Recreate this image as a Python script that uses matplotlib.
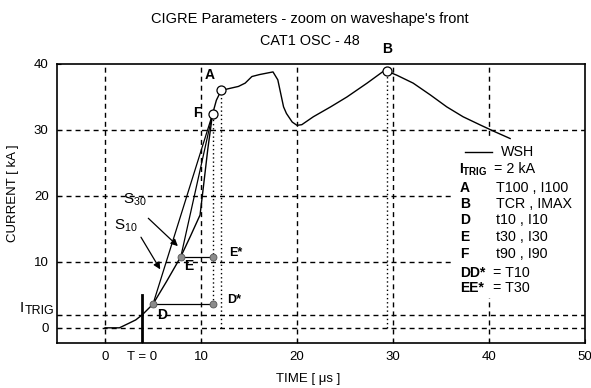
import matplotlib
matplotlib.use('Agg')
import matplotlib.pyplot as plt
from matplotlib.patches import Rectangle

plt.rcParams['font.family'] = ['Liberation Sans', 'DejaVu Sans']
plt.rcParams['mathtext.fontset'] = 'custom'
plt.rcParams['mathtext.rm'] = 'Liberation Sans'
plt.rcParams['mathtext.bf'] = 'Liberation Sans:bold'

# recorded waveshape: time [us], current [kA]
time_us = [0, 1.5, 2.5, 3.2, 3.9, 5.0, 6.4, 7.9, 8.9, 9.9, 10.3, 10.7, 11.2,
           11.6, 12.1, 12.7, 13.9, 14.6, 15.3, 16.1, 17.5, 18.0, 18.6, 18.9,
           19.5, 20.0, 20.5, 21.7, 23.5, 25.2, 27.3, 29.0, 29.4, 30.4, 32.1,
           33.9, 35.6, 37.3, 39.1, 40.5, 42.2]
current_ka = [0, 0, 0.7, 1.2, 2.0, 3.6, 7.0, 10.8, 13.9, 17.1, 22.0, 27.0, 32.4,
              34.5, 36.0, 36.2, 36.6, 37.1, 38.1, 38.4, 38.8, 37.6, 33.5, 32.5,
              31.2, 30.7, 30.8, 32.0, 33.5, 35.0, 37.1, 38.9, 38.9, 38.3, 37.1,
              35.3, 33.5, 32.0, 30.75, 29.8, 28.7]

# CIGRE parameters
i_trig = 2.0
t_zero = 3.9
t_A, i_A = 12.1, 36.0      # T100, I100
t_B, i_B = 29.4, 38.9      # TCR, IMAX
t_D, i_D = 5.0, 3.6        # t10, I10
t_E, i_E = 7.9, 10.8       # t30, I30
t_F, i_F = 11.2, 32.4      # t90, I90
t_star = 11.2              # end of DD* and EE*

x_ticks = [0, t_zero, 10, 20, 30, 40, 50]
x_labels = ['0', 'T = 0', '10', '20', '30', '40', '50']
y_ticks = [0, i_trig, 10, 20, 30, 40]
y_labels = ['0', '', '10', '20', '30', '40']

legend_keys = ['A', 'B', 'D', 'E', 'F', 'DD*', 'EE*']
legend_vals = ['T100 , I100', 'TCR , IMAX', 't10 , I10', 't30 , I30',
               't90 , I90', '= T10', '= T30']
legend_y = [0.556, 0.498, 0.441, 0.380, 0.319, 0.251, 0.197]

fig = plt.figure(figsize=(5.91, 3.88), dpi=100)
ax = fig.add_axes([57 / 591, 45 / 388, 528 / 591, 279 / 388])
ax.set_xlim(-5, 50)
ax.set_ylim(-2.3, 40)

dash = (0, (3.6, 2.9))
for x in [0, 10, 20, 30, 40]:
    ax.axvline(x, color='black', lw=1, ls=dash, zorder=1)
for y in [0, i_trig, 10, 20, 30]:
    ax.axhline(y, color='black', lw=1, ls=dash, zorder=1)

# dotted markers of the characteristic times
dot = (0, (1, 2))
ax.plot([t_A, t_A], [0, i_A], color='black', lw=1, ls=dot, zorder=2)
ax.plot([t_F, t_F], [i_D, i_F], color='black', lw=1, ls=dot, zorder=2)
ax.plot([t_B, t_B], [0, i_B], color='black', lw=1, ls=dot, zorder=2)

ax.plot(time_us, current_ka, color='black', lw=1, zorder=3)

# slopes S10 and S30
ax.plot([t_D, t_F], [i_D, i_F], color='black', lw=0.9, zorder=3)
ax.plot([t_E, t_F], [i_E, i_F], color='black', lw=0.9, zorder=3)

# T10 / T30 segments
ax.plot([t_D, t_star], [i_D, i_D], color='black', lw=0.9, zorder=3)
ax.plot([t_E, t_star], [i_E, i_E], color='black', lw=0.9, zorder=3)
ax.plot([t_D, t_star, t_E, t_star], [i_D, i_D, i_E, i_E], ls='none', marker='o',
        ms=5, mfc='#8c8c8c', mec='#555555', mew=0.6, zorder=4)

ax.plot([t_A, t_B, t_F], [i_A, i_B, i_F], ls='none', marker='o', ms=6.5,
        mfc='white', mec='black', mew=0.9, zorder=4)

ax.plot([t_zero, t_zero], [-2.3, 5.0], color='black', lw=2, zorder=4)

bold = dict(fontsize=10, fontweight='bold', zorder=5)
ax.text(10.9, 38.3, 'A', ha='center', va='center', **bold)
ax.text(9.6, 32.6, 'F', ha='center', va='center', **bold)
ax.text(t_B, 42.2, 'B', ha='center', va='center', clip_on=False, **bold)
ax.text(5.9, 2.0, 'D', ha='center', va='center', **bold)
ax.text(8.75, 9.3, 'E', ha='center', va='center', **bold)
ax.text(12.7, 4.2, 'D*', ha='left', va='center', fontsize=9, fontweight='bold')
ax.text(12.95, 11.4, 'E*', ha='left', va='center', fontsize=9, fontweight='bold')

ax.text(1.9, 19.4, r'$\mathregular{S_{30}}$', ha='left', va='center', fontsize=11)
ax.text(0.9, 15.4, r'$\mathregular{S_{10}}$', ha='left', va='center', fontsize=11)
arrow = dict(arrowstyle='-|>', color='black', lw=0.9, mutation_scale=10)
ax.annotate('', xy=(7.8, 12.1), xytext=(4.3, 16.9), arrowprops=arrow)
ax.annotate('', xy=(5.9, 8.5), xytext=(3.6, 14.1), arrowprops=arrow)

# legend block
ax.add_patch(Rectangle((0.75, 0.163), 0.25, 0.58, transform=ax.transAxes,
                       facecolor='white', edgecolor='none', zorder=2))
ax.plot([0.773, 0.824], [0.685, 0.685], color='black', lw=1,
        transform=ax.transAxes, zorder=5)
ax.text(0.84, 0.685, 'WSH', transform=ax.transAxes, fontsize=10.3,
        va='center', zorder=5)
ax.text(0.761, 0.62, r'$\mathbf{I_{TRIG}}$', transform=ax.transAxes,
        fontsize=10, va='center', zorder=5)
ax.text(0.828, 0.625, '= 2 kA', transform=ax.transAxes, fontsize=10.3,
        va='center', zorder=5)
for key, val, y in zip(legend_keys, legend_vals, legend_y):
    ax.text(0.763, y, key, transform=ax.transAxes, fontsize=10,
            fontweight='bold', va='center', zorder=5)
    vx = 0.826 if val.startswith('=') else 0.832
    ax.text(vx, y, val, transform=ax.transAxes, fontsize=10.3,
            va='center', zorder=5)

ax.set_xticks(x_ticks)
ax.set_xticklabels(x_labels)
ax.set_yticks(y_ticks)
ax.set_yticklabels(y_labels)
ax.tick_params(direction='in', length=3, labelsize=9.5, pad=6, width=0.8)
for s in ax.spines.values():
    s.set_linewidth(1.2)

# I_TRIG tick label, written out by hand for the wide subscript
fig.text(22 / 591, 1 - 307.5 / 388, 'I', ha='center', va='center', fontsize=11)
fig.text(25 / 591, 1 - 311.5 / 388, 'TRIG', ha='left', va='center',
         fontsize=9)

fig.text(310 / 591, 1 - 19 / 388, "CIGRE Parameters - zoom on waveshape's front",
         ha='center', va='center', fontsize=10.5)
fig.text(310 / 591, 1 - 41 / 388, 'CAT1 OSC - 48', ha='center', va='center',
         fontsize=10.4)
fig.text(308 / 591, 1 - 379 / 388, 'TIME [ μs ]', ha='center', va='center',
         fontsize=9.5)
fig.text(13 / 591, 1 - 193 / 388, 'CURRENT [ kA ]', ha='center', va='center',
         rotation=90, fontsize=9.5)

fig.savefig('out.png', dpi=100)
